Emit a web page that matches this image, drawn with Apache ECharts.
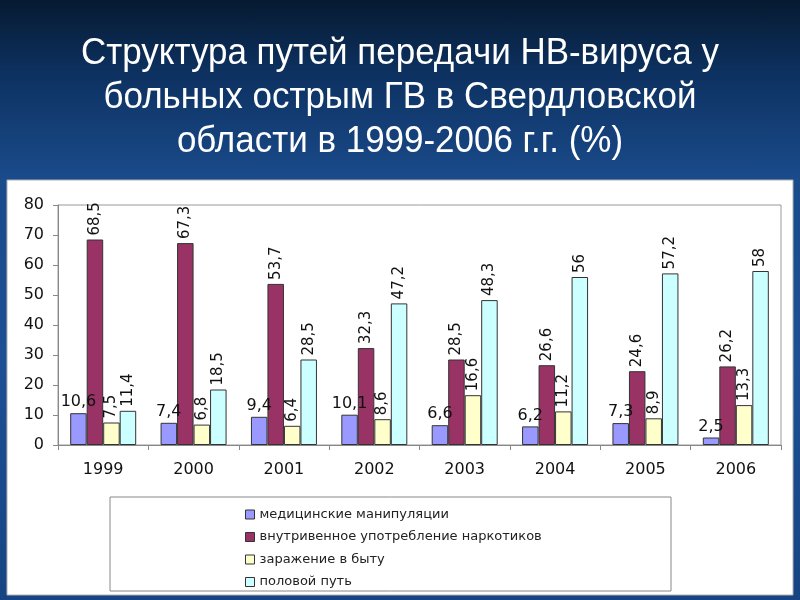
<!DOCTYPE html>
<html><head><meta charset="utf-8">
<script src="https://cdn.jsdelivr.net/npm/echarts@6/dist/echarts.min.js"></script>
<style>
html,body{margin:0;padding:0;}
body{width:800px;height:600px;background:linear-gradient(180deg,#061a31 0%,#0d3160 12%,#1a4b8b 30%,#1d5094 60%,#174583 100%);}
#c{width:800px;height:600px;}
</style></head><body><div id="c"></div>
<script>
const categories = ['1999','2000','2001','2002','2003','2004','2005','2006'];
const seriesNames = ['медицинские манипуляции','внутривенное употребление наркотиков','заражение в быту','половой путь'];
const medical = [10.6, 7.4, 9.4, 10.1, 6.6, 6.2, 7.3, 2.5];
const drugs = [68.5, 67.3, 53.7, 32.3, 28.5, 26.6, 24.6, 26.2];
const household = [7.5, 6.8, 6.4, 8.6, 16.6, 11.2, 8.9, 13.3];
const sexual = [11.4, 18.5, 28.5, 47.2, 48.3, 56, 57.2, 58];
const colors = ['#9999ff','#993366','#ffffcc','#ccffff'];
const titleText = 'Структура путей передачи НВ-вируса у\nбольных острым ГВ в Свердловской\nобласти в 1999-2006 г.г. (%)';

const fmt = p => String(p.value).replace('.', ',');
function mk(i, data, rotated){
  return {
    name: seriesNames[i], type:'bar', data: data,
    barWidth: 16.5, barGap: '0%',
    itemStyle:{color: colors[i], borderColor:'#333333', borderWidth:1},
    label: rotated ? {show:true, position:'top', rotate:90, align:'left', verticalAlign:'middle', distance:4,
      formatter: fmt, fontFamily:'DejaVu Sans', fontSize:15, color:'#111'} :
      {show:true, position:'top', distance:3, formatter: fmt, fontFamily:'DejaVu Sans', fontSize:16, color:'#111'}
  };
}
const chart = echarts.init(document.getElementById('c'), null, {renderer:'canvas'});
chart.setOption({
  backgroundColor:'transparent',
  animation:false,
  graphic:[
    {type:'text', x:400, y:32, scaleX:0.945, z:10,
      style:{text:titleText, fill:'#ffffff', font:'normal 37px "Liberation Sans"', textAlign:'center', textVerticalAlign:'top', lineHeight:44}},
    {type:'rect', shape:{x:7,y:180,width:786,height:415}, style:{fill:'#ffffff', stroke:'#b0b0b0', lineWidth:1}, z:-10},
    {type:'rect', shape:{x:110,y:497,width:561,height:94}, style:{fill:'#ffffff', stroke:'#888888', lineWidth:1}, z:-5}
  ],
  legend:{orient:'vertical', left:240, top:503, itemWidth:9, itemHeight:9, itemGap:9.5,
    icon:'rect', itemStyle:{borderColor:'#333', borderWidth:1},
    textStyle:{fontFamily:'DejaVu Sans', fontSize:13, color:'#222'}, data: seriesNames},
  grid:{left:58, right:19, top:205, bottom:155, containLabel:false, show:true, borderColor:'#999', borderWidth:1, backgroundColor:'transparent'},
  xAxis:{type:'category', data:categories,
    axisLine:{lineStyle:{color:'#888'}}, axisTick:{show:true, alignWithLabel:false, length:5, lineStyle:{color:'#888'}},
    axisLabel:{fontFamily:'DejaVu Sans', fontSize:16, color:'#111', margin:17}},
  yAxis:{type:'value', min:0, max:80, interval:10,
    axisLine:{show:true, lineStyle:{color:'#888'}}, axisTick:{show:true, length:5, lineStyle:{color:'#888'}},
    splitLine:{show:false},
    axisLabel:{fontFamily:'DejaVu Sans', fontSize:16, color:'#111', margin:14}},
  series:[mk(0, medical, false), mk(1, drugs, true), mk(2, household, true), mk(3, sexual, true)]
});
</script></body></html>
